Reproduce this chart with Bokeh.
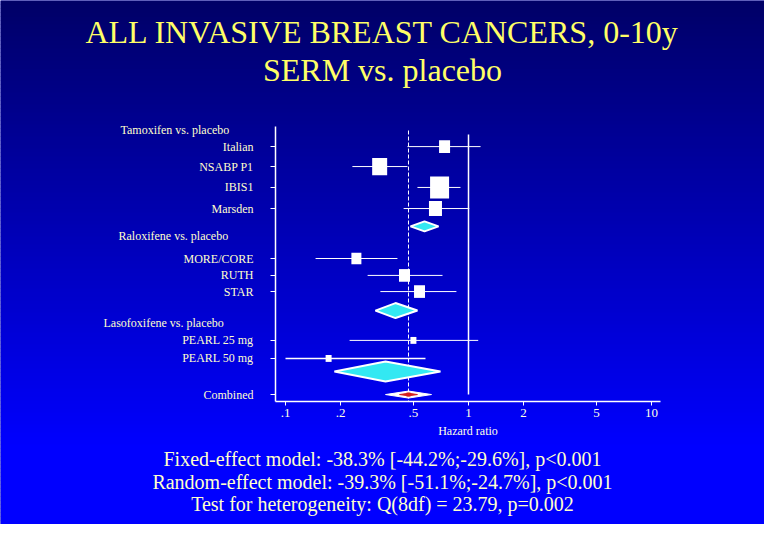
from bokeh.plotting import figure
from bokeh.models import Range1d, LogAxis, LinearAxis, FixedTicker, ColumnDataSource
from bokeh.embed import file_html
from bokeh.resources import INLINE
from bokeh.core.properties import value

# ---------------- data ----------------
title_lines = ["ALL INVASIVE BREAST CANCERS, 0-10y", "SERM vs. placebo"]
group_headers = ["Tamoxifen vs. placebo", "Raloxifene vs. placebo", "Lasofoxifene vs. placebo"]
header_rows = [0.0, 5.63, 10.16]

studies = ["Italian", "NSABP P1", "IBIS1", "Marsden", "MORE/CORE", "RUTH", "STAR",
           "PEARL 25 mg", "PEARL 50 mg"]
study_rows = [0.9, 1.95, 3.05, 4.16, 6.79, 7.68, 8.53, 11.1, 12.05]
study_hr = [0.74, 0.327, 0.695, 0.66, 0.244, 0.447, 0.54, 0.50, 0.172]
study_lo = [0.464, 0.232, 0.526, 0.442, 0.146, 0.281, 0.330, 0.224, 0.100]
study_hi = [1.164, 0.464, 0.904, 1.01, 0.409, 0.721, 0.859, 1.13, 0.582]
study_weight = [11, 15, 19, 13, 10, 11, 11, 6, 6]

pooled_names = ["Tamoxifen", "Raloxifene", "Lasofoxifene"]
pooled_rows = [5.1, 9.53, 12.74]
pooled_hr = [0.575, 0.399, 0.352]
pooled_lo = [0.482, 0.310, 0.185]
pooled_hi = [0.686, 0.526, 0.703]
pooled_halfh = [5, 7.5, 10]

combined_label = "Combined"
combined_row = 13.95
combined_hr = 0.47
combined_lo = 0.352
combined_hi = 0.628
combined_inner_lo = 0.42
combined_inner_hi = 0.526

x_ticks = [0.1, 0.2, 0.5, 1, 2, 5, 10]
x_tick_labels = [".1", ".2", ".5", "1", "2", "5", "10"]
x_label = "Hazard ratio"

footer_lines = ["Fixed-effect model: -38.3% [-44.2%;-29.6%], p<0.001",
                "Random-effect model: -39.3% [-51.1%;-24.7%], p<0.001",
                "Test for heterogeneity: Q(8df) = 23.79, p=0.002"]

# ---------------- layout helpers ----------------
W, H = 764, 524
PX_DEC = 183.0      # pixels per decade
X_TENTH = 285.0     # frame px of HR = 0.1
ROW_PX = 19.0       # pixels per row unit
ROW0 = 129.0        # frame px of row 0


def hr_at(px):
    return 0.1 * 10 ** ((px - X_TENTH) / PX_DEC)


def row_at(py):
    return (py - ROW0) / ROW_PX


x_start, x_end = hr_at(0), hr_at(W)
y_top, y_bot = row_at(0), row_at(H)
x_mid = (x_start * x_end) ** 0.5

SERIF = value("Liberation Serif")

p = figure(width=W, height=H, x_axis_type="log",
           x_range=Range1d(x_start, x_end), y_range=Range1d(y_bot, y_top),
           output_backend="svg", toolbar_location=None,
           x_axis_location=None, y_axis_location=None,
           min_border=0, outline_line_color=None)
p.xgrid.visible = False
p.ygrid.visible = False
p.background_fill_color = "#0000B0"
p.border_fill_color = "#0000B0"

# background gradient (dark navy -> bright blue)
band = 4
tops, bots, cols = [], [], []
for i in range(H // band + 1):
    y0 = i * band
    yc = y0 + band / 2 + 8
    t = min(1.0, yc / 455.0)
    b = int(round(100 + 155 * t))
    tops.append(row_at(y0))
    bots.append(row_at(y0 + band + 0.6))
    cols.append("#%02x%02x%02x" % (0, 0, b))
p.quad(left=x_start, right=x_end, top=tops, bottom=bots, fill_color=cols, line_color=None)

# axes
axis_left_hr = hr_at(275)
axis_right_hr = hr_at(660)
axis_bottom_row = row_at(401)
axis_top_row = row_at(126)

xaxis = LogAxis(fixed_location=axis_bottom_row, bounds=(axis_left_hr, axis_right_hr),
                ticker=FixedTicker(ticks=x_ticks, minor_ticks=[]),
                major_label_overrides={t: l for t, l in zip(x_ticks, x_tick_labels)},
                axis_label=x_label)
xaxis.axis_line_color = "white"
xaxis.axis_line_width = 1.5
xaxis.major_tick_line_color = "white"
xaxis.major_tick_out = 4
xaxis.major_tick_in = 0
xaxis.minor_tick_line_color = None
xaxis.major_label_standoff = 3
xaxis.major_label_text_font = "Liberation Serif"
xaxis.major_label_text_font_size = "13px"
xaxis.major_label_text_color = "#FFFFE6"
xaxis.axis_label_text_font = "Liberation Serif"
xaxis.axis_label_text_font_size = "12px"
xaxis.axis_label_text_font_style = "normal"
xaxis.axis_label_text_color = "#FFFFE6"
xaxis.axis_label_standoff = 4
p.add_layout(xaxis, "below")

y_ticks = study_rows + [combined_row]
y_names = studies + [combined_label]
yaxis = LinearAxis(fixed_location=axis_left_hr, bounds=(axis_top_row, axis_bottom_row),
                   ticker=FixedTicker(ticks=y_ticks, minor_ticks=[]),
                   major_label_overrides={t: n for t, n in zip(y_ticks, y_names)})
yaxis.axis_line_color = "white"
yaxis.axis_line_width = 1.5
yaxis.major_tick_line_color = "white"
yaxis.major_tick_out = 5
yaxis.major_tick_in = 0
yaxis.minor_tick_line_color = None
yaxis.major_label_standoff = 17
yaxis.major_label_text_font = "Liberation Serif"
yaxis.major_label_text_font_size = "12px"
yaxis.major_label_text_color = "#FFFFCC"
p.add_layout(yaxis, "left")

# reference lines: HR = 1 (solid) and pooled estimate (dashed)
p.segment(x0=[1], y0=[row_at(134)], x1=[1], y1=[combined_row],
          line_color="white", line_width=1.5)
p.segment(x0=[combined_hr], y0=[row_at(130)], x1=[combined_hr], y1=[axis_bottom_row],
          line_color="white", line_width=1, line_dash="4 2")

# study confidence intervals and boxes
lw = [1.5 if w <= 6 and h < 0.2 else 1 for w, h in zip(study_weight, study_hr)]
src = ColumnDataSource(dict(hr=study_hr, lo=study_lo, hi=study_hi, row=study_rows,
                            w=study_weight, h=[w * 1.15 for w in study_weight], lw=lw))
p.segment(x0="lo", y0="row", x1="hi", y1="row", source=src, line_color="white", line_width="lw")
p.rect(x="hr", y="row", width="w", height="h", width_units="screen", height_units="screen",
       source=src, fill_color="white", line_color=None)

# pooled diamonds
xs, ys = [], []
for r, e, l, u, hh in zip(pooled_rows, pooled_hr, pooled_lo, pooled_hi, pooled_halfh):
    d = hh / ROW_PX
    xs.append([l, e, u, e])
    ys.append([r, r - d, r, r + d])
p.patches(xs, ys, fill_color="#33E8F2", line_color="white", line_width=2)

# combined diamond
d = 3.5 / ROW_PX
p.patch([combined_lo, combined_hr, combined_hi, combined_hr],
        [combined_row, combined_row - d, combined_row, combined_row + d],
        fill_color="white", line_color="white", line_width=1)
di = 1.3 / ROW_PX
p.patch([combined_inner_lo, combined_hr, combined_inner_hi, combined_hr],
        [combined_row, combined_row - di, combined_row, combined_row + di],
        fill_color="#D42020", line_color="#D42020", line_width=1)
p.rect(x=[combined_hr], y=[combined_row], width=4, height=4, width_units="screen",
       height_units="screen", fill_color="#D42020", line_color=None)

# group headers
p.text(x=[axis_left_hr] * 3, y=header_rows, text=group_headers,
       x_offset=[-155, -157, -172], text_align="left", text_baseline="middle",
       text_font=SERIF, text_font_size="12px", text_color="#FFFFCC")

# title
p.text(x=[x_mid, x_mid], y=[row_at(31), row_at(69)], text=title_lines,
       text_align="center", text_baseline="alphabetic",
       text_font=SERIF, text_font_size="32px", text_color="#FFFF66")

# footer
p.text(x=[x_mid] * 3, y=[row_at(458), row_at(481), row_at(503)], text=footer_lines,
       text_align="center", text_baseline="alphabetic",
       text_font=SERIF, text_font_size="20px", text_color="#FFFFCC")

open("out.html", "w").write(file_html(p, INLINE))
